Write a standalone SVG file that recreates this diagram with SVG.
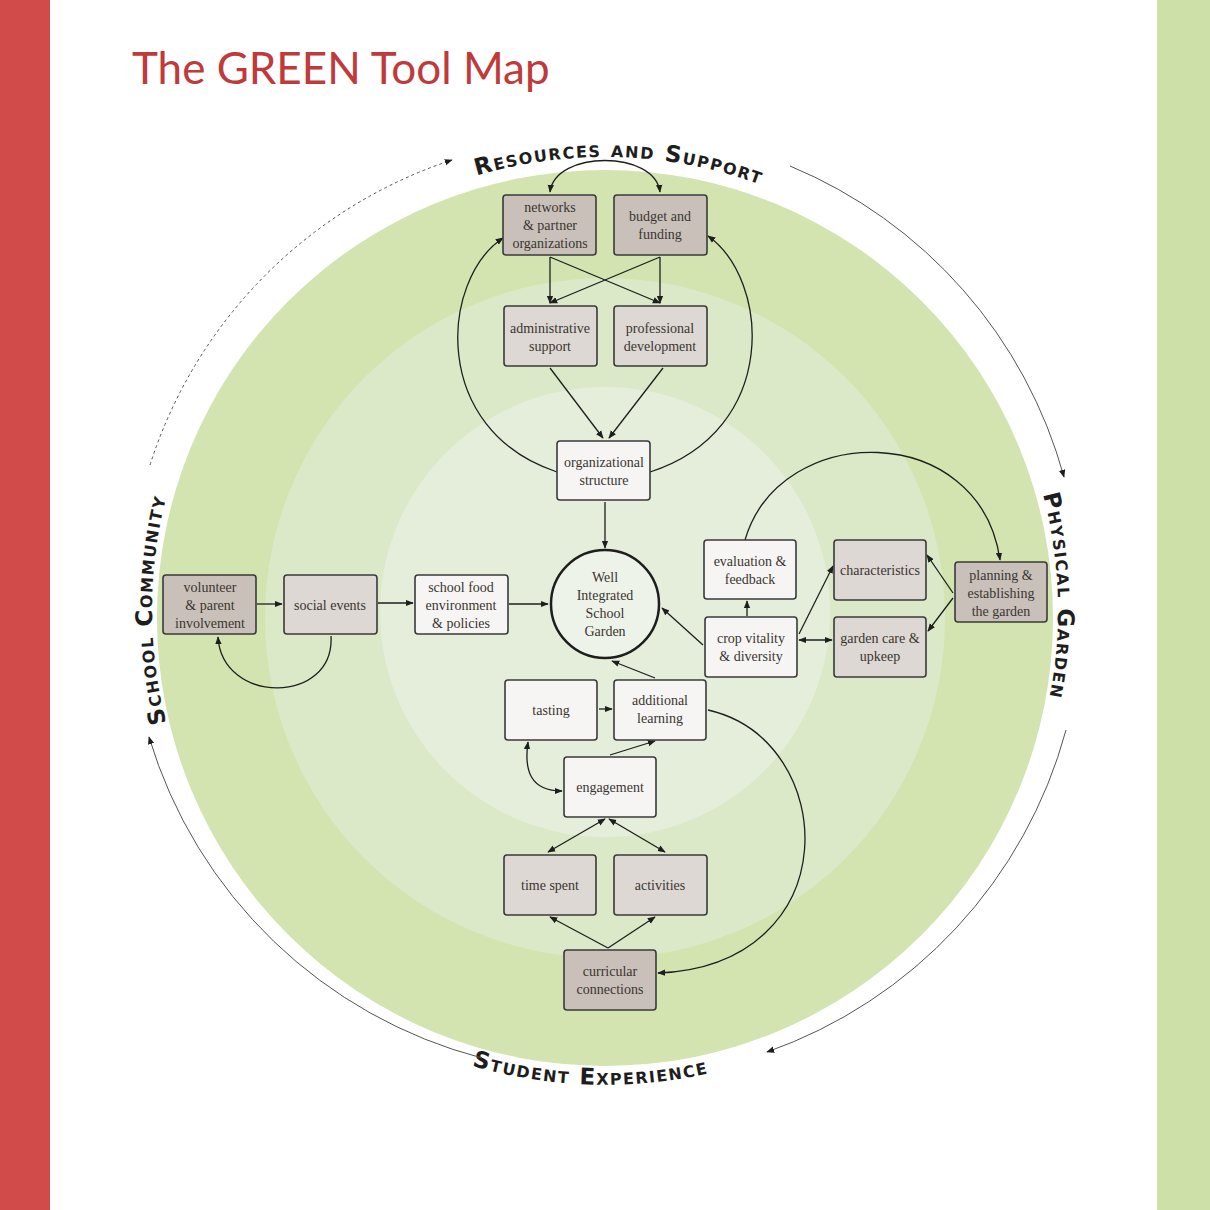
<svg xmlns="http://www.w3.org/2000/svg" width="1210" height="1210" viewBox="0 0 1210 1210">
<style>
.b{stroke:#3a3a3a;stroke-width:1.6}
.d{fill:#c9c1b9}.m{fill:#ddd8d3}.l{fill:#f6f5f3}
.t{font-family:"Liberation Serif",serif;font-size:14px;fill:#3a3530;text-anchor:middle}
.c{fill:none;stroke:#1e1e1e;stroke-width:1.3}
.r{font-family:"DejaVu Sans","Liberation Sans",sans-serif;font-size:23px;font-weight:bold;font-variant:small-caps;fill:#1e1e1e;letter-spacing:1.5px}
</style>
<defs>
<marker id="a" viewBox="0 0 10 10" refX="9" refY="5" markerWidth="8" markerHeight="8" orient="auto-start-reverse" markerUnits="userSpaceOnUse"><path d="M0,1 L10,5 L0,9 z" fill="#1e1e1e"/></marker>
<path id="ptop" d="M152,610 A453,453 0 0 1 1058,610"/>
<path id="pleft" d="M605,1063 A453,453 0 0 1 605,157"/>
<path id="pright" d="M605,157 A453,453 0 0 1 605,1063"/>
<path id="pbot" d="M130,610 A475,475 0 0 0 1080,610"/>
</defs>
<rect width="1210" height="1210" fill="#fff"/>
<rect x="0" y="0" width="50" height="1210" fill="#d24b4b"/>
<rect x="1157" y="0" width="53" height="1210" fill="#cde0a8"/>
<text x="132" y="84" font-family="Lato,'Liberation Sans',sans-serif" font-size="44" fill="#c0393b">The GREEN Tool Map</text>
<circle cx="605" cy="618" r="448" fill="#d3e4b1"/>
<circle cx="605" cy="618" r="340" fill="#dce9c8"/>
<circle cx="605" cy="612" r="225" fill="#e5eedb"/>
<g class="r">
<text><textPath href="#ptop" startOffset="51%" text-anchor="middle">Resources and Support</textPath></text>
<text><textPath href="#pleft" startOffset="50%" text-anchor="middle">School Community</textPath></text>
<text><textPath href="#pright" startOffset="49%" text-anchor="middle">Physical Garden</textPath></text>
<text><textPath href="#pbot" startOffset="49%" text-anchor="middle">Student Experience</textPath></text>
</g>
<g id="outer-arcs" fill="none" stroke="#555" stroke-width="1">
<path d="M150,465 A472,472 0 0 1 452,160" stroke-dasharray="3,3" marker-end="url(#a)"/>
<path d="M790,166 A472,472 0 0 1 1064,477" marker-end="url(#a)"/>
<path d="M1066,730 A472,472 0 0 1 767,1052" marker-end="url(#a)"/>
<path d="M482,1058 A472,472 0 0 1 149,737" marker-end="url(#a)"/>
</g>
<g id="connectors" class="c">
<path d="M550,192 C555,150 655,150 660,192" marker-start="url(#a)" marker-end="url(#a)"/>
<path d="M550,257 L550,303" marker-end="url(#a)"/>
<path d="M660,257 L660,303" marker-end="url(#a)"/>
<path d="M550,257 L660,303" marker-end="url(#a)"/>
<path d="M660,257 L550,303" marker-end="url(#a)"/>
<path d="M550,368 L603,438" marker-end="url(#a)"/>
<path d="M663,368 L609,438" marker-end="url(#a)"/>
<path d="M605,502 L605,548" marker-end="url(#a)"/>
<path d="M557,472 C430,430 440,280 503,238" marker-end="url(#a)"/>
<path d="M650,472 C780,430 770,280 708,236" marker-end="url(#a)"/>
<path d="M257,604 L282,604" marker-end="url(#a)"/>
<path d="M331,636 C335,705 222,705 218,637" marker-end="url(#a)"/>
<path d="M378,603 L413,603" marker-end="url(#a)"/>
<path d="M509,604 L548,604" marker-end="url(#a)"/>
<path d="M703,645 L662,608" marker-end="url(#a)"/>
<path d="M747,616 L747,601" marker-end="url(#a)"/>
<path d="M745,540 C780,420 980,420 1000,560" marker-end="url(#a)"/>
<path d="M799,640 L832,640" marker-start="url(#a)" marker-end="url(#a)"/>
<path d="M799,634 L833,566" marker-end="url(#a)"/>
<path d="M953,593 L927,555" marker-end="url(#a)"/>
<path d="M953,598 L928,631" marker-end="url(#a)"/>
<path d="M655,678 L612,661" marker-end="url(#a)"/>
<path d="M599,709 L612,709" marker-end="url(#a)"/>
<path d="M610,755 L655,741" marker-end="url(#a)"/>
<path d="M562,791 C530,791 524,770 528,742" marker-start="url(#a)" marker-end="url(#a)"/>
<path d="M605,819 L548,852" marker-start="url(#a)" marker-end="url(#a)"/>
<path d="M609,819 L665,852" marker-start="url(#a)" marker-end="url(#a)"/>
<path d="M608,948 L550,917" marker-end="url(#a)"/>
<path d="M608,948 L655,917" marker-end="url(#a)"/>
<path d="M708,710 C840,740 850,965 658,973" marker-end="url(#a)"/>
</g>
<g id="n-networks"><rect class="b d" x="503" y="195" width="93" height="60" rx="3"/><text class="t" x="550" y="212">networks</text><text class="t" x="550" y="230">&amp; partner</text><text class="t" x="550" y="248">organizations</text></g>
<g id="n-budget"><rect class="b d" x="614" y="195" width="93" height="60" rx="3"/><text class="t" x="660" y="221">budget and</text><text class="t" x="660" y="239">funding</text></g>
<g id="n-admin"><rect class="b m" x="504" y="306" width="93" height="60" rx="3"/><text class="t" x="550" y="333">administrative</text><text class="t" x="550" y="351">support</text></g>
<g id="n-prof"><rect class="b m" x="614" y="306" width="93" height="60" rx="3"/><text class="t" x="660" y="333">professional</text><text class="t" x="660" y="351">development</text></g>
<g id="n-org"><rect class="b l" x="557" y="441" width="93" height="59" rx="3"/><text class="t" x="604" y="467">organizational</text><text class="t" x="604" y="485">structure</text></g>
<g id="n-center"><circle cx="605" cy="604" r="54" fill="#eef3ea" stroke="#1e1e1e" stroke-width="2.5"/><text class="t" x="605" y="582">Well</text><text class="t" x="605" y="600">Integrated</text><text class="t" x="605" y="618">School</text><text class="t" x="605" y="636">Garden</text></g>
<g id="n-volunteer"><rect class="b d" x="163" y="575" width="93" height="59" rx="3"/><text class="t" x="210" y="592">volunteer</text><text class="t" x="210" y="610">&amp; parent</text><text class="t" x="210" y="628">involvement</text></g>
<g id="n-social"><rect class="b m" x="284" y="575" width="93" height="59" rx="3"/><text class="t" x="330" y="610">social events</text></g>
<g id="n-food"><rect class="b l" x="415" y="575" width="93" height="59" rx="3"/><text class="t" x="461" y="592">school food</text><text class="t" x="461" y="610">environment</text><text class="t" x="461" y="628">&amp; policies</text></g>
<g id="n-eval"><rect class="b l" x="704" y="540" width="92" height="59" rx="3"/><text class="t" x="750" y="566">evaluation &amp;</text><text class="t" x="750" y="584">feedback</text></g>
<g id="n-char"><rect class="b m" x="834" y="540" width="92" height="60" rx="3"/><text class="t" x="880" y="575">characteristics</text></g>
<g id="n-plan"><rect class="b d" x="955" y="562" width="92" height="60" rx="3"/><text class="t" x="1001" y="580">planning &amp;</text><text class="t" x="1001" y="598">establishing</text><text class="t" x="1001" y="616">the garden</text></g>
<g id="n-crop"><rect class="b l" x="705" y="617" width="92" height="60" rx="3"/><text class="t" x="751" y="643">crop vitality</text><text class="t" x="751" y="661">&amp; diversity</text></g>
<g id="n-care"><rect class="b m" x="834" y="617" width="92" height="60" rx="3"/><text class="t" x="880" y="643">garden care &amp;</text><text class="t" x="880" y="661">upkeep</text></g>
<g id="n-tasting"><rect class="b l" x="505" y="680" width="92" height="60" rx="3"/><text class="t" x="551" y="715">tasting</text></g>
<g id="n-additional"><rect class="b l" x="614" y="680" width="92" height="60" rx="3"/><text class="t" x="660" y="705">additional</text><text class="t" x="660" y="723">learning</text></g>
<g id="n-engagement"><rect class="b l" x="564" y="757" width="92" height="60" rx="3"/><text class="t" x="610" y="792">engagement</text></g>
<g id="n-time"><rect class="b m" x="504" y="855" width="92" height="60" rx="3"/><text class="t" x="550" y="890">time spent</text></g>
<g id="n-activities"><rect class="b m" x="614" y="855" width="93" height="60" rx="3"/><text class="t" x="660" y="890">activities</text></g>
<g id="n-curricular"><rect class="b d" x="564" y="950" width="92" height="60" rx="3"/><text class="t" x="610" y="976">curricular</text><text class="t" x="610" y="994">connections</text></g>
</svg>
